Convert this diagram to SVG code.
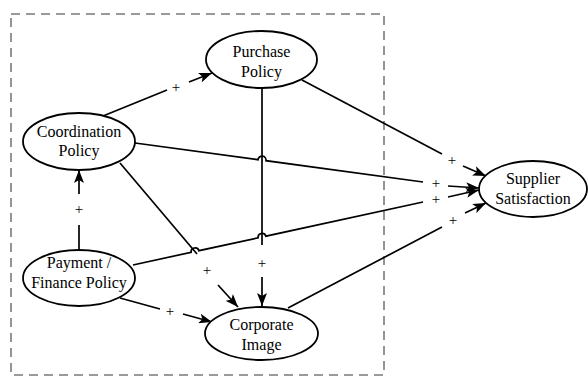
<svg xmlns="http://www.w3.org/2000/svg" width="588" height="379" viewBox="0 0 588 379">
  <style>
    .node ellipse { fill: #fff; stroke: #000; stroke-width: 1.8; }
    .node text { fill: #000; text-anchor: middle; }
    .edge { fill: none; stroke: #000; stroke-width: 1.7; }
    .arr { marker-end: url(#head); }
    .sign { fill: #000; text-anchor: middle; }
    .frame { fill: none; stroke: #7a7a7a; stroke-width: 1.6; stroke-dasharray: 9 6; }
  </style>
  <defs>
    <marker id="head" markerUnits="userSpaceOnUse" markerWidth="14" markerHeight="10" refX="13" refY="5" orient="auto">
      <path d="M0,0 L13,5 L0,10 L3,5 z" fill="#000"/>
    </marker>
  </defs>

  <rect width="588" height="379" fill="#fff"/>

  <!-- dashed system boundary -->
  <rect class="frame" x="11" y="14" width="373" height="361"/>

  <g id="connectors" font-family="Liberation Serif, serif" font-size="15">
    <!-- Coordination -> Purchase -->
    <path class="edge" d="M103,116 L167,90"/>
    <path class="edge arr" d="M189,82 L212,73"/>
    <text class="sign" x="176" y="92">+</text>

    <!-- Purchase -> Supplier Satisfaction -->
    <path class="edge" d="M302,80 L442,154"/>
    <path class="edge arr" d="M463,166 L486,176"/>
    <text class="sign" x="452" y="165">+</text>

    <!-- Coordination -> Supplier Satisfaction (jumps the vertical line) -->
    <path class="edge" d="M135,143 L258,159.7 A4,4 0 0 1 266,160.7 L423,182"/>
    <path class="edge arr" d="M448,186 L479,188"/>
    <text class="sign" x="436" y="188">+</text>

    <!-- Payment / Finance -> Supplier Satisfaction (two jumps) -->
    <path class="edge" d="M133,265 L191.1,252.3 A4,4 0 0 1 198.9,250.7 L258.1,237.8 A4,4 0 0 1 265.9,236.2 L423,202"/>
    <path class="edge arr" d="M448,197 L479,190"/>
    <text class="sign" x="436" y="204">+</text>

    <!-- Coordination -> Corporate Image -->
    <path class="edge" d="M120,163 L197,254"/>
    <path class="edge arr" d="M218,285 L238,307"/>
    <text class="sign" x="207" y="275">+</text>

    <!-- Purchase -> Corporate Image -->
    <path class="edge" d="M262,88 L262,245"/>
    <path class="edge arr" d="M262,277 L262,306"/>
    <text class="sign" x="262" y="268">+</text>

    <!-- Payment / Finance -> Coordination -->
    <path class="edge" d="M79,250 L79,225"/>
    <path class="edge arr" d="M79,194 L79,170"/>
    <text class="sign" x="79" y="214">+</text>

    <!-- Payment / Finance -> Corporate Image -->
    <path class="edge" d="M120,298 L160,309"/>
    <path class="edge arr" d="M183,314 L212,322"/>
    <text class="sign" x="170" y="316">+</text>

    <!-- Corporate Image -> Supplier Satisfaction -->
    <path class="edge" d="M288,308 L442,227"/>
    <path class="edge arr" d="M465,213 L486,203"/>
    <text class="sign" x="453" y="225">+</text>
  </g>

  <g id="purchase" class="node" font-family="Liberation Serif, serif" font-size="16">
    <ellipse cx="261.5" cy="59.5" rx="55.5" ry="28.5"/>
    <text x="261.5" y="57">Purchase</text>
    <text x="261.5" y="77">Policy</text>
  </g>

  <g id="coordination" class="node" font-family="Liberation Serif, serif" font-size="16">
    <ellipse cx="79" cy="141.5" rx="56" ry="28.5"/>
    <text x="79" y="137">Coordination</text>
    <text x="79" y="156">Policy</text>
  </g>

  <g id="payment" class="node" font-family="Liberation Serif, serif" font-size="16">
    <ellipse cx="79" cy="278" rx="56" ry="28"/>
    <text x="79" y="268">Payment /</text>
    <text x="79" y="288">Finance Policy</text>
  </g>

  <g id="corporate" class="node" font-family="Liberation Serif, serif" font-size="16">
    <ellipse cx="261.5" cy="333.5" rx="56.5" ry="26.5"/>
    <text x="261.5" y="330">Corporate</text>
    <text x="261.5" y="350">Image</text>
  </g>

  <g id="supplier" class="node" font-family="Liberation Serif, serif" font-size="16">
    <ellipse cx="533" cy="189" rx="54" ry="28"/>
    <text x="533" y="184">Supplier</text>
    <text x="533" y="204">Satisfaction</text>
  </g>
</svg>
